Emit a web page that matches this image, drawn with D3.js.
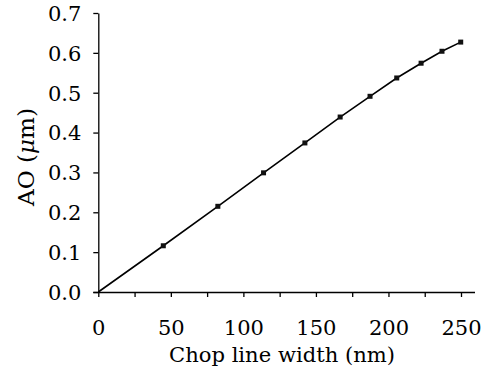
<!DOCTYPE html>
<html><head><meta charset="utf-8">
<script src="https://cdn.jsdelivr.net/npm/d3@7"></script>
<style>body{margin:0;background:#fff}svg{display:block}</style>
</head><body>
<script>
const chopWidth = [0, 44.8, 82.4, 113.9, 142.4, 166.7, 187.3, 205.7, 222.5, 236.9, 249.8];
const aoValues  = [0, 0.116, 0.215, 0.299, 0.374, 0.439, 0.491, 0.537, 0.574, 0.604, 0.627];
const xTicks = [0, 50, 100, 150, 200, 250];
const xMinorTicks = [25, 75, 125, 175, 225];
const yTicks = [0.0, 0.1, 0.2, 0.3, 0.4, 0.5, 0.6, 0.7];

const W = 488, H = 369;
const svg = d3.select("body").append("svg").attr("width", W).attr("height", H);
const font = "DejaVu Serif";
const x = d3.scaleLinear().domain([0, 250]).range([98.3, 461]);
const y = d3.scaleLinear().domain([0, 0.7]).range([292, 13]);

// x axis
const xAxis = d3.axisBottom(x).tickValues(xTicks.concat(xMinorTicks)).tickSizeOuter(0).tickSize(5)
  .tickFormat(d => xTicks.includes(d) ? d : "");
const gx = svg.append("g").attr("transform", `translate(0,${y(0)})`).call(xAxis);
gx.select(".domain").attr("d", `M${x(0)-5},0.5H475`);
gx.selectAll("line").attr("stroke", "#000").attr("stroke-width", 1.3);
gx.select(".domain").attr("stroke", "#000").attr("stroke-width", 1.3);
gx.selectAll("text").attr("font-family", font).attr("font-size", 21).attr("fill", "#000").attr("dy", null).attr("y", 43);

// y axis
const yAxis = d3.axisLeft(y).tickValues(yTicks).tickSize(5).tickSizeOuter(0).tickFormat(d3.format(".1f"));
const gy = svg.append("g").attr("transform", `translate(${x(0)},0)`).call(yAxis);
gy.selectAll("line").attr("stroke", "#000").attr("stroke-width", 1.3);
gy.select(".domain").attr("stroke", "#000").attr("stroke-width", 1.3);
gy.selectAll("text").attr("font-family", font).attr("font-size", 21).attr("fill", "#000").attr("x", -17).attr("dy", "0.35em");

// line
const line = d3.line().x((d, i) => x(chopWidth[i])).y(d => y(d));
svg.append("path").datum(aoValues).attr("d", line).attr("fill", "none").attr("stroke", "#000").attr("stroke-width", 1.6);

// markers
svg.selectAll("rect.pt").data(aoValues.slice(1)).enter().append("rect")
  .attr("class", "pt")
  .attr("x", (d, i) => x(chopWidth[i + 1]) - 2.5).attr("y", d => y(d) - 2.5)
  .attr("width", 5).attr("height", 5).attr("fill", "#111");

// axis titles
svg.append("text").attr("x", 282).attr("y", 362).attr("text-anchor", "middle")
  .attr("font-family", font).attr("font-size", 21).attr("fill", "#000")
  .attr("textLength", 226).attr("lengthAdjust", "spacingAndGlyphs").text("Chop line width (nm)");
const yl = svg.append("text").attr("transform", "translate(34,157) rotate(-90)").attr("text-anchor", "middle")
  .attr("font-family", font).attr("font-size", 22).attr("fill", "#000")
  .attr("textLength", 98).attr("lengthAdjust", "spacingAndGlyphs");
yl.append("tspan").text("AO (");
yl.append("tspan").attr("font-style", "italic").text("μ");
yl.append("tspan").text("m)");
</script>
</body></html>
